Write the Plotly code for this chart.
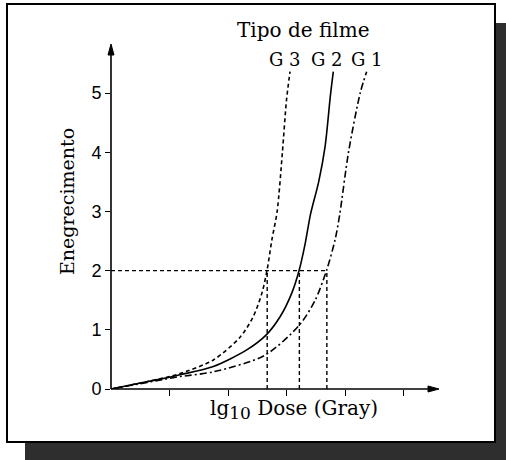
import plotly.graph_objects as go

# ---- data ----
g3_x = [0, 0.5, 1.0, 1.18, 1.75, 2.21, 2.43, 2.58, 2.67, 2.75, 2.84, 2.93, 3.00, 3.06]
g3_y = [0, 0.10, 0.21, 0.26, 0.49, 0.88, 1.22, 1.62, 2.02, 2.52, 3.00, 4.00, 4.88, 5.36]

g2_x = [0, 0.5, 1.0, 1.18, 1.75, 2.32, 2.65, 2.89, 3.09, 3.22, 3.32, 3.41, 3.55, 3.66, 3.75, 3.80]
g2_y = [0, 0.10, 0.20, 0.24, 0.38, 0.66, 0.91, 1.22, 1.62, 2.02, 2.46, 2.95, 3.50, 4.10, 4.95, 5.36]

g1_x = [0, 0.5, 1.0, 1.18, 1.75, 2.63, 3.22, 3.49, 3.69, 3.83, 3.91, 4.06, 4.26, 4.37]
g1_y = [0, 0.09, 0.18, 0.21, 0.29, 0.57, 1.08, 1.50, 2.02, 2.52, 2.95, 4.00, 5.00, 5.36]

ref_level = 2.0
crossing_x = [2.67, 3.22, 3.69]

y_ticks = [0, 1, 2, 3, 4, 5]
x_ticks = [1, 2, 3, 4, 5]
series_names = ["G 3", "G 2", "G 1"]

# ---- layout geometry ----
W, H = 506, 460
L, T = 111, 45
PW, PH = 330, 344
X_MAX = PW / 58.5
Y_MAX = PH / 59.2


def pxx(p):
    return (p - L) / PW


def pxy(p):
    return (T + PH - p) / PH


SERIF = "DejaVu Serif, serif"
SANS = "Liberation Sans, Arial, sans-serif"

fig = go.Figure()

# reference lines at blackening = 2
fig.add_trace(go.Scatter(x=[0, max(crossing_x)], y=[ref_level, ref_level], mode="lines",
                         line=dict(color="black", width=1.4, dash="4px,3px"),
                         hoverinfo="skip", showlegend=False))
for cx in crossing_x:
    fig.add_trace(go.Scatter(x=[cx, cx], y=[0, ref_level], mode="lines",
                             line=dict(color="black", width=1.4, dash="4px,3px"),
                             hoverinfo="skip", showlegend=False))

styles = ["4px,3px", "solid", "7px,3px,2px,3px"]
for xs, ys, nm, ds in zip([g3_x, g2_x, g1_x], [g3_y, g2_y, g1_y], series_names, styles):
    fig.add_trace(go.Scatter(x=xs, y=ys, mode="lines", name=nm,
                             line=dict(color="black", width=1.6, dash=ds,
                                       shape="spline", smoothing=0.8),
                             showlegend=False))

annotations = []
# curve labels above curve ends
for xs, ys, nm, xsh in zip([g3_x, g2_x, g1_x], [g3_y, g2_y, g1_y], series_names, [-5, -6, 0]):
    annotations.append(dict(x=xs[-1], y=ys[-1], xref="x", yref="y", text=nm,
                            showarrow=False, xanchor="center", yanchor="bottom",
                            xshift=xsh, yshift=0,
                            font=dict(family=SERIF, size=18, color="black")))
annotations.append(dict(x=pxx(302.5), y=pxy(30), xref="paper", yref="paper",
                        text="Tipo de filme", showarrow=False,
                        xanchor="center", yanchor="middle",
                        font=dict(family=SERIF, size=20, color="black")))
annotations.append(dict(x=pxx(67), y=pxy(202), xref="paper", yref="paper",
                        text="Enegrecimento", showarrow=False, textangle=-90,
                        xanchor="center", yanchor="middle",
                        font=dict(family=SERIF, size=19, color="black")))
annotations.append(dict(x=pxx(294), y=pxy(410), xref="paper", yref="paper",
                        text="lg<sub><span style='font-size:17px'>10</span></sub> Dose (Gray)",
                        showarrow=False, xanchor="center", yanchor="middle",
                        font=dict(family=SERIF, size=20, color="black")))

# arrowheads as small triangles (pixel geometry converted to paper units)
ax_tip = (439, T + PH)
ay_tip = (L, 44)
x_arrow = "M {:.4f} {:.4f} L {:.4f} {:.4f} L {:.4f} {:.4f} Z".format(
    pxx(ax_tip[0]), pxy(ax_tip[1]), pxx(ax_tip[0] - 11), pxy(ax_tip[1] - 3),
    pxx(ax_tip[0] - 11), pxy(ax_tip[1] + 3))
y_arrow = "M {:.4f} {:.4f} L {:.4f} {:.4f} L {:.4f} {:.4f} Z".format(
    pxx(ay_tip[0]), pxy(ay_tip[1]), pxx(ay_tip[0] - 3), pxy(ay_tip[1] + 11),
    pxx(ay_tip[0] + 3), pxy(ay_tip[1] + 11))

shapes = [
    # drop shadow
    dict(type="rect", xref="paper", yref="paper", layer="below",
         x0=pxx(495), x1=pxx(507), y0=pxy(461), y1=pxy(23),
         fillcolor="#2e2e2e", line=dict(width=0)),
    dict(type="rect", xref="paper", yref="paper", layer="below",
         x0=pxx(25), x1=pxx(507), y0=pxy(461), y1=pxy(442),
         fillcolor="#2e2e2e", line=dict(width=0)),
    # frame
    dict(type="rect", xref="paper", yref="paper", layer="below",
         x0=pxx(7), x1=pxx(495), y0=pxy(442), y1=pxy(4),
         fillcolor="rgba(0,0,0,0)", line=dict(color="black", width=2)),
    # axis lines with arrows
    dict(type="line", xref="paper", yref="paper", x0=0, y0=0, x1=pxx(433), y1=0,
         line=dict(color="black", width=1.6)),
    dict(type="line", xref="paper", yref="paper", x0=0, y0=0, x1=0, y1=pxy(52),
         line=dict(color="black", width=1.6)),
    dict(type="path", xref="paper", yref="paper", path=x_arrow,
         fillcolor="black", line=dict(color="black", width=1)),
    dict(type="path", xref="paper", yref="paper", path=y_arrow,
         fillcolor="black", line=dict(color="black", width=1)),
]

fig.update_layout(
    width=W, height=H,
    margin=dict(l=L, r=W - L - PW, t=T, b=H - T - PH, pad=0),
    paper_bgcolor="white", plot_bgcolor="white",
    showlegend=False,
    annotations=annotations,
    shapes=shapes,
    xaxis=dict(range=[0, X_MAX], showgrid=False, zeroline=False,
               showline=False,
               tickvals=x_ticks, ticks="outside", ticklen=6, tickwidth=1.3,
               tickcolor="black", showticklabels=False, fixedrange=True),
    yaxis=dict(range=[0, Y_MAX], showgrid=False, zeroline=False,
               showline=False,
               tickvals=y_ticks, ticktext=[str(v) for v in y_ticks],
               ticks="outside", ticklen=5, tickwidth=1.3, tickcolor="black",
               tickfont=dict(family=SANS, size=18, color="black"),
               fixedrange=True),
)

fig.write_html("out.html", config={"displayModeBar": False},
               post_script="document.body.style.margin='0';document.body.style.overflow='hidden';")
